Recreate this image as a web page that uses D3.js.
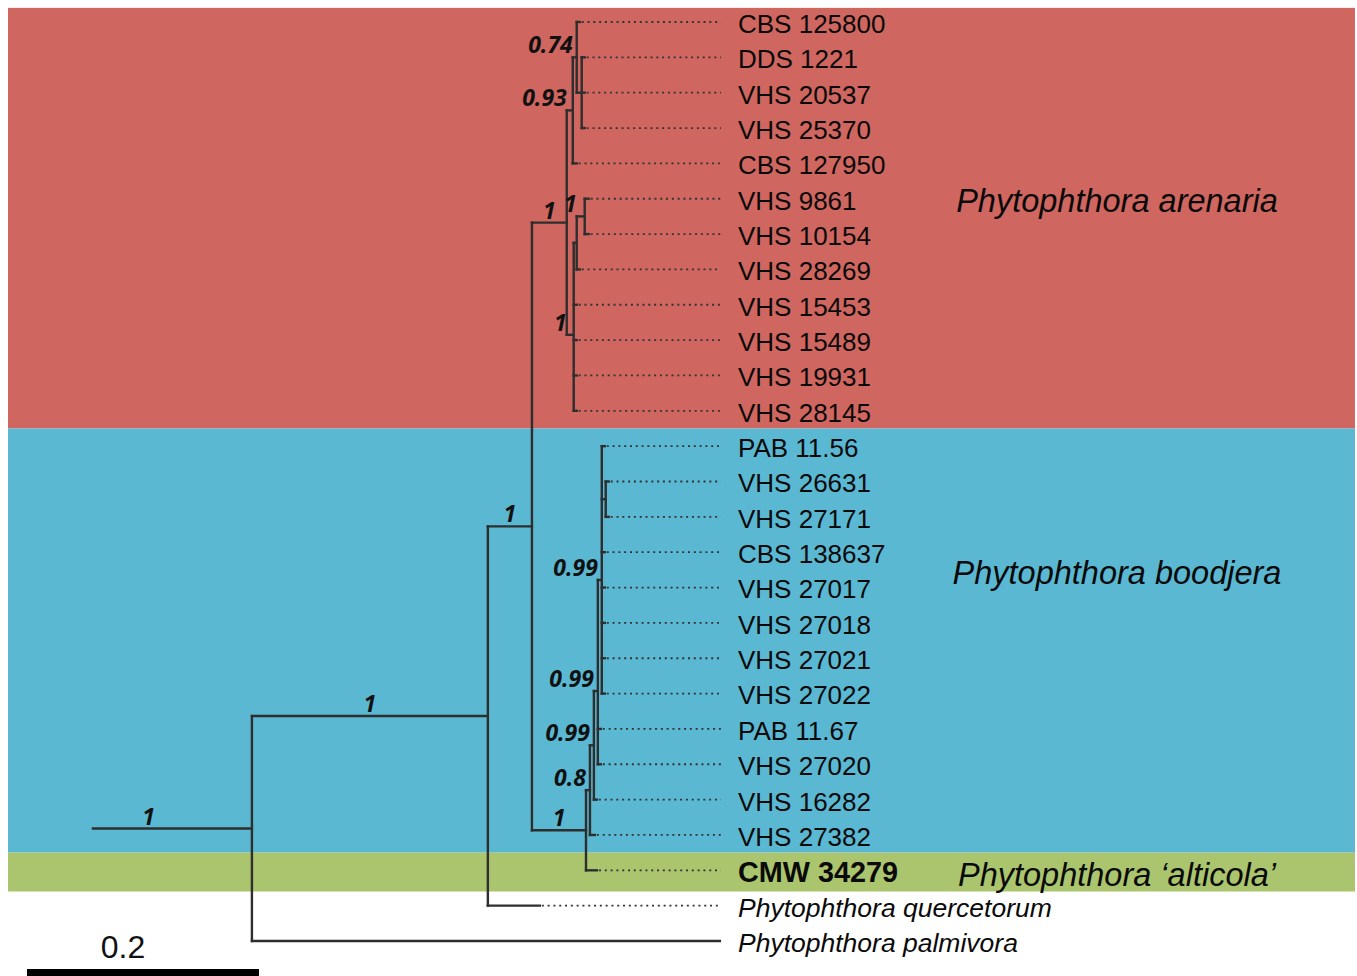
<!DOCTYPE html>
<html>
<head>
<meta charset="utf-8">
<script src="https://cdn.jsdelivr.net/npm/d3@7/dist/d3.min.js"></script>
<style>
  html, body { margin: 0; padding: 0; background: #ffffff; }
  svg { display: block; }
</style>
</head>
<body>
<svg id="chart" width="1357" height="976"></svg>
<script>
// ---------------- DATA ----------------
// Tree topology, posterior support and branch lengths (substitutions/site)
const newickTree =
  "((((((CBS 125800:0.0026,(DDS 1221:0.0026,VHS 20537:0.0026,VHS 25370:0.0026):0.0043)0.74:0.0034," +
  "CBS 127950:0.0034)0.93:0.0052,(((VHS 9861:0.0034,VHS 10154:0.0034)1:0.0069,VHS 28269:0.0026):0.0026," +
  "VHS 15453:0.0026,VHS 15489:0.0026,VHS 19931:0.0026,VHS 28145:0.0026)1:0.006)1:0.030," +
  "(((((PAB 11.56:0.0026,(VHS 26631:0.0026,VHS 27171:0.0026):0.0034,CBS 138637:0.0026,VHS 27017:0.0026," +
  "VHS 27018:0.0026,VHS 27021:0.0026,VHS 27022:0.0026)0.99:0.0034,PAB 11.67:0.0026,VHS 27020:0.0026)0.99:0.0034," +
  "VHS 16282:0.0026)0.99:0.0034,VHS 27382:0.0043)0.8:0.0034,CMW 34279:0.0095)1:0.0466)1:0.038," +
  "Phytophthora quercetorum:0.0448)1:0.2034,Phytophthora palmivora:0.4034)1:0.137;";

const cladeNames  = ["Phytophthora arenaria", "Phytophthora boodjera", "Phytophthora \u2018alticola\u2019"];
const cladeFirst  = ["CBS 125800", "PAB 11.56", "CMW 34279"];
const cladeLast   = ["VHS 28145", "VHS 27382", "CMW 34279"];
const boldLeaves   = ["CMW 34279"];
const italicLeaves = ["Phytophthora quercetorum", "Phytophthora palmivora"];
const scaleBarValue = 0.2;
const scaleBarLabel = "0.2";

// ---------------- STYLE / LAYOUT ----------------
const cladeColors = ["#cf665f", "#5bb8d2", "#abc56e"];
const bandEdgeRows = [[-0.4, 11.5], [11.5, 23.5], [23.5, 24.6]];
const cladeLabelRows = [5.05, 15.58, 24.1];
const lineColor = "#2e2e2e";

// ---------------- PARSER ----------------
function parseNewick(s) {
  let i = 0;
  function node() {
    const n = { children: [] };
    if (s[i] === "(") {
      i++;
      n.children.push(node());
      while (s[i] === ",") { i++; n.children.push(node()); }
      i++; // ')'
    }
    let lab = "";
    while (i < s.length && !",():;".includes(s[i])) lab += s[i++];
    let len = 0;
    if (s[i] === ":") {
      i++;
      let num = "";
      while (i < s.length && !",();".includes(s[i])) num += s[i++];
      len = +num;
    }
    if (n.children.length) { n.support = lab.trim(); }
    else { n.name = lab.trim(); delete n.children; }
    n.length = len;
    return n;
  }
  return node();
}

const root = d3.hierarchy(parseNewick(newickTree));
const leaves = root.leaves();
const nLeaves = leaves.length;

// Scales
const x = d3.scaleLinear().domain([0, 1]).range([93, 93 + 1160]);
const y = d3.scaleLinear().domain([0, nLeaves - 1]).range([22, 941]);

root.each(d => {
  d.dist = (d.parent ? d.parent.dist : 0) + d.data.length;
});
leaves.forEach((l, i) => { l.row = i; });
root.eachAfter(d => {
  if (d.children) d.row = d3.mean(d.children, c => c.row);
});

const svg = d3.select("#chart");

// Clade bands
const bands = svg.append("g");
cladeNames.forEach((c, k) => {
  const y0 = y(bandEdgeRows[k][0]), y1 = y(bandEdgeRows[k][1]);
  bands.append("rect")
    .attr("x", 8).attr("width", 1347)
    .attr("y", y0).attr("height", y1 - y0)
    .attr("fill", cladeColors[k]);
});

// Dotted leaders
const tipEnd = 721;
svg.append("g").selectAll("line").data(leaves.filter(l => x(l.dist) < tipEnd - 4))
  .join("line")
  .attr("x1", d => x(d.dist) + 2).attr("x2", tipEnd)
  .attr("y1", d => y(d.row)).attr("y2", d => y(d.row))
  .attr("stroke", "#333").attr("stroke-width", 1.8)
  .attr("stroke-dasharray", "2,3.8");

// Branches
const g = svg.append("g").attr("fill", "none").attr("stroke", lineColor)
  .attr("stroke-width", 2.4).attr("stroke-linecap", "square");
root.descendants().forEach(d => {
  const x0 = d.parent ? x(d.parent.dist) : x(0);
  g.append("line").attr("x1", x0).attr("x2", x(d.dist))
    .attr("y1", y(d.row)).attr("y2", y(d.row));
  if (d.children) {
    const rows = d.children.map(c => c.row);
    g.append("line").attr("x1", x(d.dist)).attr("x2", x(d.dist))
      .attr("y1", y(d3.min(rows))).attr("y2", y(d3.max(rows)));
  }
});

// Support values
const sup = svg.append("g")
  .attr("font-family", "'Open Sans', sans-serif")
  .attr("font-style", "italic").attr("font-weight", "bold")
  .attr("font-size", 23).attr("fill", "#111");
root.descendants().filter(d => d.children && d.data.support).forEach(d => {
  const x0 = d.parent ? x(d.parent.dist) : x(0);
  const x1 = x(d.dist);
  const t = sup.append("text").text(d.data.support).attr("y", y(d.row) - 4);
  if (!d.parent) {
    t.attr("x", x0 + (x1 - x0) * 0.35).attr("text-anchor", "middle");
  } else if (x1 - x0 > 30) {
    t.attr("x", (x0 + x1) / 2).attr("text-anchor", "middle");
  } else {
    t.attr("x", x0).attr("text-anchor", "end");
  }
});

// Leaf labels
svg.append("g").selectAll("text").data(leaves).join("text")
  .attr("x", 738).attr("y", d => y(d.row)).attr("dy", "0.42em")
  .attr("font-family", "'Liberation Sans', Arial, sans-serif")
  .attr("font-size", d => italicLeaves.includes(d.data.name) ? 26.5 : (boldLeaves.includes(d.data.name) ? 28.8 : 26))
  .attr("font-style", d => italicLeaves.includes(d.data.name) ? "italic" : "normal")
  .attr("font-weight", d => boldLeaves.includes(d.data.name) ? "bold" : "normal")
  .attr("fill", "#0a0a0a")
  .text(d => d.data.name);

// Clade labels
svg.append("g").selectAll("text").data(cladeNames).join("text")
  .attr("x", 1117).attr("y", (d, k) => y(cladeLabelRows[k])).attr("dy", "0.36em")
  .attr("text-anchor", "middle")
  .attr("font-family", "'Liberation Sans', Arial, sans-serif")
  .attr("font-style", "italic").attr("font-size", 32.5).attr("fill", "#0a0a0a")
  .text(d => d);

// Scale bar
const barLen = x(scaleBarValue) - x(0);
svg.append("rect").attr("x", 27).attr("y", 969).attr("width", barLen).attr("height", 7).attr("fill", "#000");
svg.append("text").attr("x", 27 + barLen / 2 - 20).attr("y", 958)
  .attr("text-anchor", "middle")
  .attr("font-family", "'Liberation Sans', Arial, sans-serif")
  .attr("font-size", 32).attr("fill", "#111").text(scaleBarLabel);
</script>
</body>
</html>
